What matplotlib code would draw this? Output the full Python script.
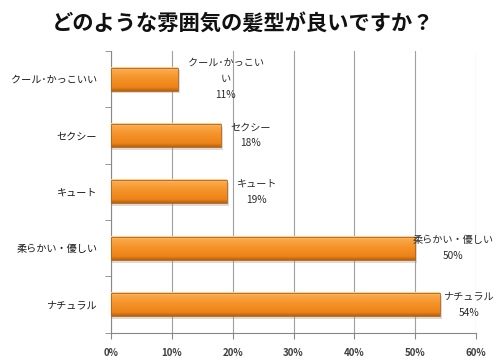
import matplotlib
matplotlib.use("Agg")
import matplotlib.pyplot as plt
import numpy as np
from matplotlib.colors import LinearSegmentedColormap
from matplotlib.ticker import FuncFormatter, MultipleLocator, FixedLocator

plt.rcParams['font.family'] = ['Noto Sans CJK JP', 'DejaVu Sans']

categories = ['クール･かっこいい', 'セクシー', 'キュート', '柔らかい・優しい', 'ナチュラル']
data_labels = ['クール･かっこい\nい', 'セクシー', 'キュート', '柔らかい・優しい', 'ナチュラル']
values = [11, 18, 19, 50, 54]
title = 'どのような雰囲気の髪型が良いですか？'
label_offsets_px = [10, 10, 10, -3, 4]

fig = plt.figure(figsize=(5.0, 3.61), dpi=100)
ax = fig.add_axes([0.222, 0.078, 0.730, 0.781])

n = len(categories)
ypos = np.arange(n)
bar_h = 0.41

cmap = LinearSegmentedColormap.from_list('o', [
    (0.0, '#fcd7a4'), (0.12, '#f8a94a'), (0.45, '#f5932a'), (0.85, '#ec8418'), (1.0, '#b96010')])
grad = np.linspace(0, 1, 64).reshape(-1, 1)

for y, v in zip(ypos, values):
    # shadow
    ax.barh(y + 0.05, v + 0.35, height=bar_h, left=0, color='#9a9a9a', alpha=0.35, zorder=2, linewidth=0)
    ax.barh(y, v, height=bar_h, color='none', edgecolor='#b4600e', linewidth=0.6, zorder=4)
    ax.imshow(grad, extent=[0, v, y + bar_h / 2, y - bar_h / 2], aspect='auto', cmap=cmap,
              zorder=3, interpolation='bilinear')

ax.set_xlim(0, 60)
ax.set_ylim(n - 0.5, -0.5)

for y, v, lab, off in zip(ypos, values, data_labels, label_offsets_px):
    ax.annotate(f'{lab}\n{v}%', xy=(v, y), xytext=(off * 0.72, 0), textcoords='offset points',
                ha='left', va='center', multialignment='center', fontsize=7.3, color='#2a2a2a',
                linespacing=1.75, zorder=6)

ax.xaxis.set_major_locator(MultipleLocator(10))
ax.xaxis.set_major_formatter(FuncFormatter(lambda x, p: f'{int(round(x))}%'))
ax.grid(axis='x', color='#a0a0a0', linewidth=0.8, zorder=0)
ax.set_axisbelow(True)

ax.set_yticks(ypos)
ax.set_yticklabels(categories, fontsize=7.3, color='#1a1a1a')
ax.yaxis.set_minor_locator(FixedLocator(np.arange(-0.5, n, 1.0)))
ax.tick_params(axis='y', which='major', length=0, pad=10)
ax.tick_params(axis='y', which='minor', length=4, color='#888888', direction='out')
ax.tick_params(axis='x', length=4, color='#888888', direction='out', labelsize=7, labelcolor='#404040', pad=7)
for t in ax.get_xticklabels():
    t.set_fontweight('bold')

for s in ['top', 'right']:
    ax.spines[s].set_visible(False)
ax.spines['left'].set_color('#888888')
ax.spines['bottom'].set_color('#888888')

fig.text(0.486, 0.937, title, ha='center', va='center', fontsize=15.3, fontweight='bold', color='#111111')

fig.savefig('out.png', dpi=100)
